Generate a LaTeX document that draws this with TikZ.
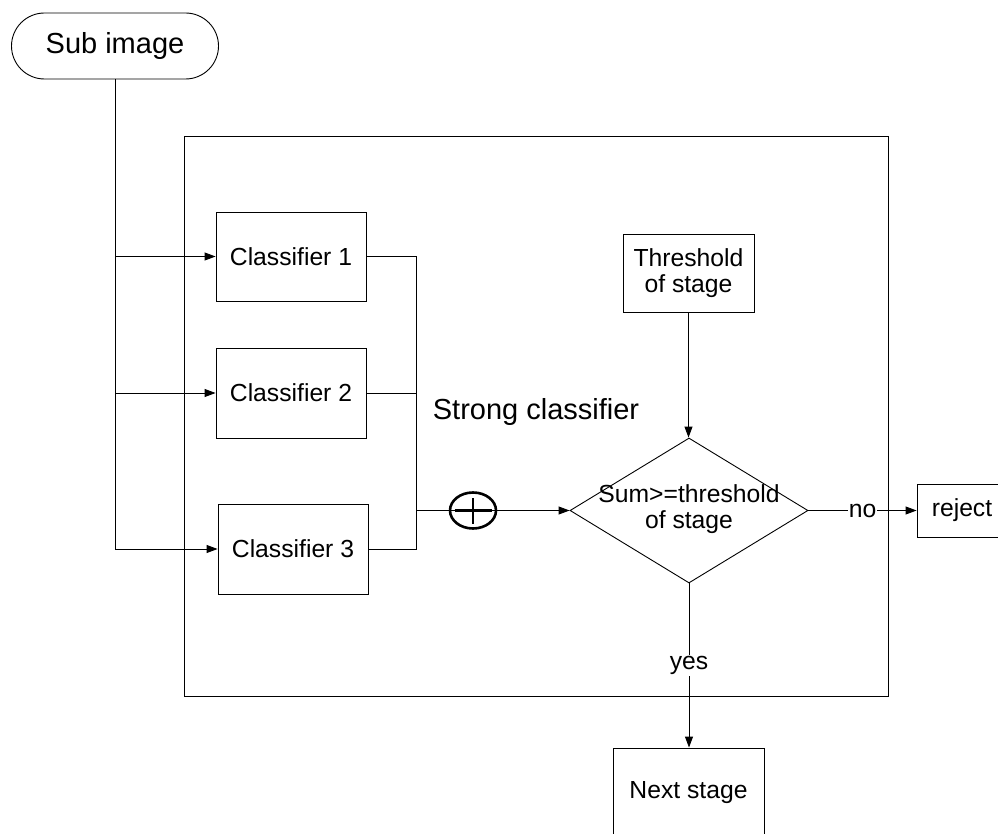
\documentclass[tikz,border=0pt]{standalone}
\usepackage{fontspec}
\setmainfont{Liberation Sans}
\usetikzlibrary{arrows.meta,shapes.geometric,shapes.misc}
\begin{document}
\begin{tikzpicture}[x=1pt,y=-1pt,
  line width=0.9pt,
  every node/.style={font=\fontsize{24.7}{26}\selectfont, align=center, inner sep=0pt},
  box/.style={draw, rectangle},
  arr/.style={-{Triangle[length=11pt,width=8pt]}},
  lbl/.style={fill=white, inner sep=1pt},
  big/.style={font=\fontsize{29}{32}\selectfont}]
\useasboundingbox (0,0) rectangle (998,834);
\clip (0,0) rectangle (998,834);
% frame
\node[box, minimum width=704, minimum height=560] (frame) at (536,416) {};
\node[big] (strong) at (536,412) {Strong classifier};
% start
\node[draw, rounded rectangle, minimum width=207, minimum height=66, big] (sub) at (115,46) {Sub image};
% classifiers
\node[box, minimum width=150, minimum height=89] (c1) at (291,256.5) {Classifier 1};
\node[box, minimum width=150, minimum height=90] (c2) at (291,393) {Classifier 2};
\node[box, minimum width=150, minimum height=90] (c3) at (293,549) {Classifier 3};
% threshold
\node[box, minimum width=131, minimum height=78] (thr) at (688.5,273) {Threshold\\of stage};
% decision
\node[draw, diamond, aspect=1.64, minimum width=238, minimum height=145] (dec) at (689,510.5) {};
\node (dectext) at (689,509) {Sum>=threshold\\of stage};
% outcomes
\node[box, minimum width=90, minimum height=53] (rej) at (962,510.5) {reject};
\node[box, minimum width=151, minimum height=90] (next) at (688.5,793) {Next stage};
% sum symbol
\coordinate (bx) at (416,0);
\coordinate (bj) at (416,510.5);
% connectors: input bus
\draw[arr] (sub.south) -- (sub.south |- c3.west) -- (c3.west);
\draw[arr] (sub.south |- c1.west) -- (c1.west);
\draw[arr] (sub.south |- c2.west) -- (c2.west);
% output bus
\draw (c1.east) -- (c1.east -| bx) -- (c3.east -| bx) -- (c3.east);
\draw (c2.east) -- (c2.east -| bx);
\draw[arr] (bj) -- (dec.west);
\node[draw, ellipse, line width=2.6pt, minimum width=46, minimum height=36] (sum) at (473,510.5) {};
\draw[line width=2.6pt] ([xshift=-18.5]sum.center) -- ([xshift=18.5]sum.center);
\draw[line width=2.6pt] ([yshift=-13]sum.center) -- ([yshift=13]sum.center);
% threshold to decision
\draw[arr] (thr.south) -- (thr.south |- dec.north);
% decision outcomes
\draw[arr] (dec.east) -- node[lbl] {no} (rej.west);
\draw[arr] (dec.south) -- node[lbl, pos=0.5] {yes} (dec.south |- next.north);
\end{tikzpicture}
\end{document}
